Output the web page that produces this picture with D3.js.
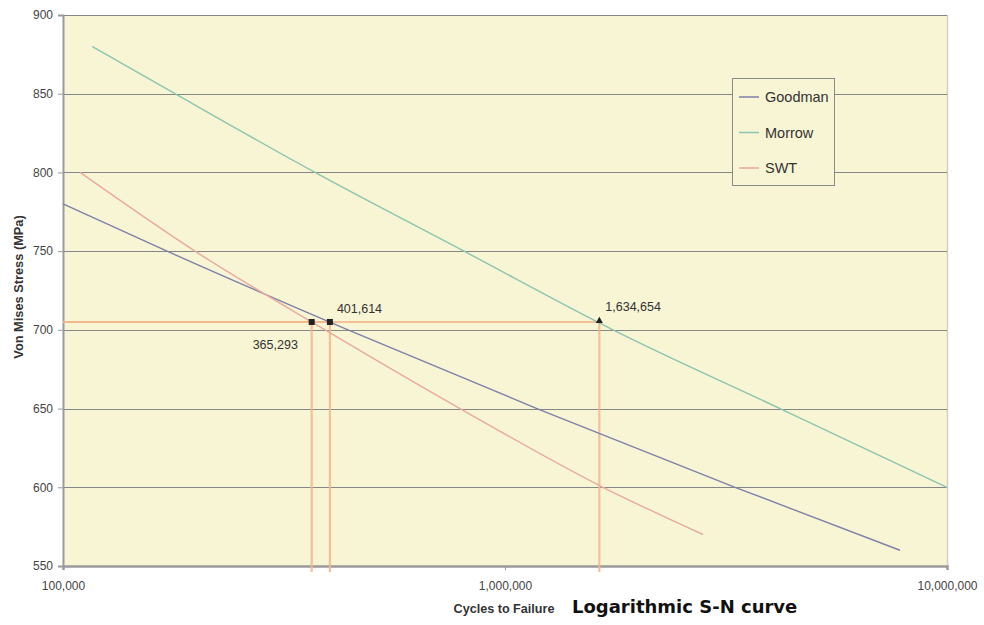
<!DOCTYPE html>
<html>
<head>
<meta charset="utf-8">
<script src="https://cdn.jsdelivr.net/npm/d3@7"></script>
<style>
  html, body { margin: 0; padding: 0; background: #ffffff; }
  svg { display: block; }
</style>
</head>
<body>
<svg id="chart" width="984" height="625"></svg>
<script>
// Fatigue life predictions: von Mises stress vs cycles to failure
const seriesNames = ["Goodman", "Morrow", "SWT"];
const seriesColors = ["#7f80aa", "#8cc4b0", "#e9a99b"];

const goodmanCycles = [100000, 171900, 441400, 1181000, 3315000, 7830000];
const goodmanStress = [780, 750, 700, 650, 600, 560];

const morrowCycles = [116500, 179200, 371700, 807600, 1755000, 4190000, 10000000];
const morrowStress = [880, 850, 800, 750, 700, 650, 600];

const swtCycles = [109300, 198900, 391600, 791000, 1666000, 2806000];
const swtStress = [800, 750, 700, 650, 600, 570];

// Predicted life at the working stress level
const designStress = 705;
const lifeCycles = [365293, 401614, 1634654];
const lifeLabels = ["365,293", "401,614", "1,634,654"];
const lifeShapes = ["square", "square", "triangle"];

const yTicks = [550, 600, 650, 700, 750, 800, 850, 900];
const xTicks = [100000, 1000000, 10000000];
const xTickLabels = ["100,000", "1,000,000", "10,000,000"];

const svg = d3.select("#chart");
const plotLeft = 63, plotRight = 947, plotTop = 15, plotBottom = 566;

const x = d3.scaleLog().domain([1e5, 1e7]).range([plotLeft, plotRight]);
const y = d3.scaleLinear().domain([550, 900]).range([plotBottom, plotTop]);

// plot background
svg.append("rect")
  .attr("x", plotLeft).attr("y", plotTop)
  .attr("width", plotRight - plotLeft).attr("height", plotBottom - plotTop)
  .attr("fill", "#f8f5d5");

// right frame edge
svg.append("line")
  .attr("x1", plotRight + 0.5).attr("x2", plotRight + 0.5)
  .attr("y1", plotTop).attr("y2", plotBottom)
  .attr("stroke", "#cfcfcf").attr("stroke-width", 1.5);

// horizontal gridlines
svg.append("g").selectAll("line")
  .data(yTicks.filter(d => d > 550))
  .join("line")
  .attr("x1", plotLeft).attr("x2", plotRight)
  .attr("y1", d => Math.round(y(d)) + 0.5).attr("y2", d => Math.round(y(d)) + 0.5)
  .attr("stroke", "#868686").attr("stroke-width", 1.1);

// y axis
const yAxis = d3.axisLeft(y).tickValues(yTicks).tickSize(5).tickPadding(5).tickFormat(d3.format("d"));
const gy = svg.append("g").attr("transform", `translate(${plotLeft},0)`).call(yAxis);
gy.select(".domain").attr("stroke", "#9a9a9a").attr("stroke-width", 2);
gy.selectAll(".tick line").attr("stroke", "#9a9a9a");
gy.selectAll(".tick text")
  .attr("fill", "#444").attr("font-family", "Liberation Sans, Arial, sans-serif").attr("font-size", 12);

// x axis
const xAxis = d3.axisBottom(x).tickValues(xTicks).tickSize(4).tickPadding(11)
  .tickFormat((d, i) => xTickLabels[i]);
const gx = svg.append("g").attr("transform", `translate(0,${plotBottom})`).call(xAxis);
gx.select(".domain").attr("stroke", "#9a9a9a").attr("stroke-width", 2.5);
gx.selectAll(".tick line").attr("stroke", "#9a9a9a");
gx.selectAll(".tick text")
  .attr("fill", "#444").attr("font-family", "Liberation Sans, Arial, sans-serif").attr("font-size", 12);

// reference lines at the design stress
const refColor = "#f3b78e";
const refs = svg.append("g");
lifeCycles.forEach(n => {
  refs.append("line")
    .attr("x1", plotLeft).attr("x2", x(n))
    .attr("y1", y(designStress)).attr("y2", y(designStress))
    .attr("stroke", refColor).attr("stroke-width", 2.2).attr("opacity", 0.85);
  refs.append("line")
    .attr("x1", x(n)).attr("x2", x(n))
    .attr("y1", y(designStress)).attr("y2", plotBottom + 6)
    .attr("stroke", refColor).attr("stroke-width", 2.2).attr("opacity", 0.85);
});

// S-N curves
const series = [
  { cycles: goodmanCycles, stress: goodmanStress },
  { cycles: morrowCycles, stress: morrowStress },
  { cycles: swtCycles, stress: swtStress }
];
const line = d3.line().x(d => x(d[0])).y(d => y(d[1])).curve(d3.curveMonotoneX);
series.forEach((s, i) => {
  svg.append("path")
    .datum(s.cycles.map((c, j) => [c, s.stress[j]]))
    .attr("d", line)
    .attr("fill", "none")
    .attr("stroke", seriesColors[i])
    .attr("stroke-width", 1.4);
});

// life markers
lifeCycles.forEach((n, i) => {
  const px = x(n), py = y(designStress);
  if (lifeShapes[i] === "square") {
    svg.append("rect")
      .attr("x", px - 3).attr("y", py - 3).attr("width", 6).attr("height", 6)
      .attr("fill", "#222");
  } else {
    svg.append("path")
      .attr("d", d3.symbol(d3.symbolTriangle, 22)())
      .attr("transform", `translate(${px},${py - 1})`)
      .attr("fill", "#222");
  }
});

// life labels
const labelOffsets = [[-59, 27], [7, -9], [6, -11]];
lifeCycles.forEach((n, i) => {
  svg.append("text")
    .attr("x", x(n) + labelOffsets[i][0])
    .attr("y", y(designStress) + labelOffsets[i][1])
    .attr("font-family", "Liberation Sans, Arial, sans-serif")
    .attr("font-size", 12.5)
    .attr("fill", "#333")
    .text(lifeLabels[i]);
});

// legend
const lg = svg.append("g");
lg.append("rect")
  .attr("x", 732.5).attr("y", 78.5).attr("width", 102).attr("height", 107)
  .attr("fill", "#f8f5d5").attr("stroke", "#8a8a8a").attr("stroke-width", 1);
seriesNames.forEach((name, i) => {
  const ly = 97 + i * 35.5;
  lg.append("line")
    .attr("x1", 739).attr("x2", 759).attr("y1", ly).attr("y2", ly)
    .attr("stroke", seriesColors[i]).attr("stroke-width", 1.5);
  lg.append("text")
    .attr("x", 765).attr("y", ly + 5)
    .attr("font-family", "Liberation Sans, Arial, sans-serif")
    .attr("font-size", 14.5)
    .attr("fill", "#333")
    .text(name);
});

// axis titles
svg.append("text")
  .attr("transform", "translate(23,287) rotate(-90)")
  .attr("text-anchor", "middle")
  .attr("font-family", "Liberation Sans, Arial, sans-serif")
  .attr("font-size", 12.8).attr("font-weight", "bold")
  .attr("fill", "#333")
  .text("Von Mises Stress (MPa)");

svg.append("text")
  .attr("x", 504).attr("y", 613)
  .attr("text-anchor", "middle")
  .attr("font-family", "Liberation Sans, Arial, sans-serif")
  .attr("font-size", 12.6).attr("font-weight", "bold")
  .attr("fill", "#333")
  .text("Cycles to Failure");

svg.append("text")
  .attr("x", 572).attr("y", 613)
  .attr("font-family", "DejaVu Sans, Verdana, sans-serif")
  .attr("font-size", 18).attr("font-weight", "bold")
  .attr("fill", "#111")
  .text("Logarithmic S-N curve");
</script>
</body>
</html>
